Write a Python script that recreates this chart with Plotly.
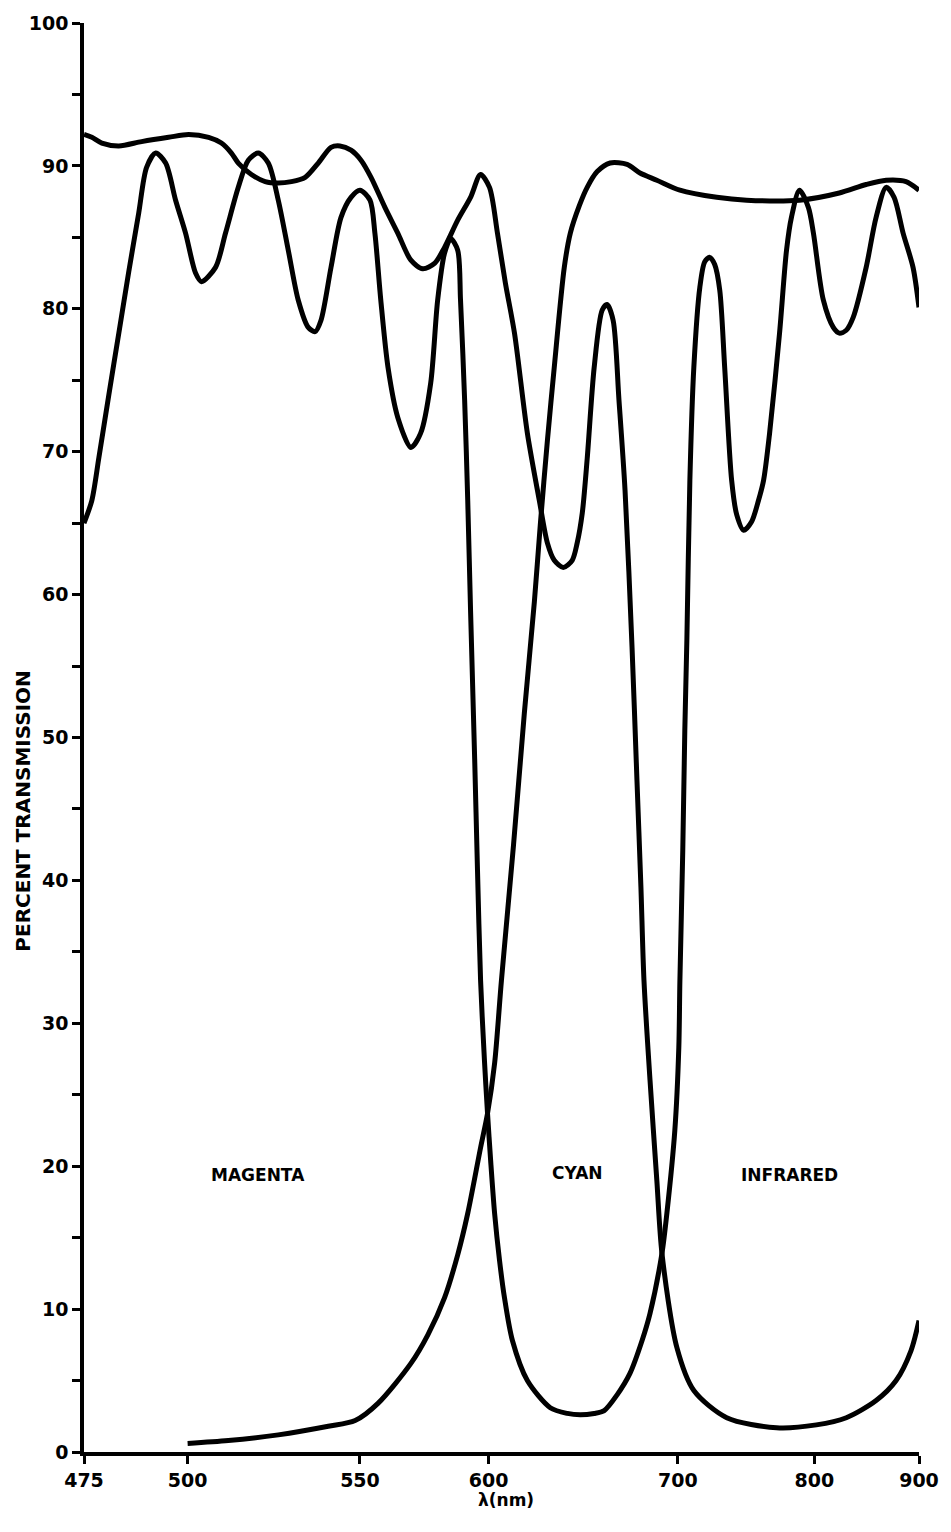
import numpy as np
import plotly.graph_objects as go

# Wavelength axis: tick wavelengths and where each sits along the axis (0 = left end, 1 = right end)
TICK_NM = [475, 500, 550, 600, 700, 800, 900]
TICK_POS = [0.0, 0.1241, 0.3305, 0.4845, 0.7112, 0.8747, 1.0]

# Short-pass filter (blocks the near infrared)
SHORT_NM = [475.0, 476.9, 479.3, 483.4, 488.9, 495.4, 500.3, 506.1, 509.8, 512.7,
            514.7, 518.5, 522.5, 526.3, 530.1, 534.1, 537.9, 541.6, 544.2, 547.4,
            550.4, 554.3, 559.7, 564.7, 569.8, 574.4, 579.1, 582.9, 588.0, 593.0,
            596.9, 600.5, 604.7, 608.9, 613.7, 620.5, 626.8, 631.1, 634.7, 639.5,
            644.2, 646.8, 649.5, 652.1, 655.8, 660.0, 662.6, 665.8, 668.9, 672.1,
            675.8, 678.4, 680.5, 682.1, 685.3, 688.9, 691.6, 699.5, 711.7, 735.8,
            772.3, 801.9, 830.5, 859.0, 878.1, 892.4, 900.0]
SHORT_T = [92.2, 92.0, 91.6, 91.4, 91.7, 92.0, 92.2, 92.0, 91.6, 90.9,
           90.2, 89.4, 88.9, 88.8, 88.9, 89.2, 90.2, 91.3, 91.4, 91.1,
           90.4, 89.2, 87.1, 85.3, 83.4, 82.8, 83.2, 84.3, 86.2, 87.8,
           89.4, 88.5, 85.3, 81.8, 78.3, 71.3, 66.6, 63.6, 62.4, 61.9,
           62.4, 63.6, 65.7, 69.5, 75.9, 79.9, 80.3, 79.2, 73.6, 67.3,
           56.3, 47.0, 39.5, 33.0, 26.0, 19.0, 13.9, 7.3, 4.3, 2.4,
           1.7, 1.9, 2.4, 3.6, 5.0, 7.1, 9.2]

# Long-pass filter (blocks blue-green)
LONG_NM = [500.0, 511.8, 526.3, 540.8, 548.6, 557.0, 569.8, 576.4, 582.9, 588.0,
           591.9, 596.9, 599.6, 603.2, 606.8, 613.2, 618.9, 624.2, 627.4, 631.1,
           634.7, 640.0, 643.2, 647.9, 652.1, 657.4, 664.2, 673.2, 680.0, 688.9,
           701.5, 728.5, 750.4, 789.1, 823.8, 849.5, 868.6, 887.6, 900.0]
LONG_T = [0.6, 0.8, 1.2, 1.8, 2.2, 3.4, 6.2, 8.2, 10.8, 13.8,
          16.7, 21.3, 23.7, 27.2, 33.0, 42.5, 51.7, 59.5, 65.0, 70.8,
          75.9, 82.9, 85.3, 87.2, 88.5, 89.6, 90.2, 90.1, 89.5, 89.0,
          88.3, 87.8, 87.6, 87.6, 88.1, 88.7, 89.0, 88.9, 88.3]

# Band-stop filter (blocks red)
NOTCH_NM = [475.0, 476.9, 478.6, 481.0, 483.4, 485.8, 488.2, 490.1, 492.3, 494.7,
            497.1, 499.5, 502.3, 504.0, 508.1, 511.0, 514.7, 517.6, 520.5, 523.4,
            526.3, 529.2, 532.1, 535.0, 537.0, 538.7, 541.6, 544.5, 547.4, 550.0,
            553.9, 555.8, 558.1, 560.9, 564.7, 569.8, 573.6, 577.5, 580.2, 582.9,
            585.3, 588.0, 589.1, 590.7, 591.9, 593.0, 594.6, 595.7, 596.9, 598.4,
            599.6, 601.1, 603.2, 605.8, 608.4, 612.6, 620.5, 632.6, 641.6, 648.4,
            655.8, 661.1, 667.9, 674.7, 681.1, 685.3, 691.6, 694.2, 698.4, 700.7,
            701.5, 703.6, 705.1, 706.6, 708.8, 711.7, 716.1, 719.7, 723.4, 727.0,
            730.7, 734.3, 739.4, 743.1, 748.2, 754.0, 759.1, 762.8, 767.2, 774.5,
            779.6, 783.2, 789.1, 795.6, 799.3, 808.6, 818.1, 823.8, 830.5, 837.1,
            849.5, 859.0, 868.6, 876.2, 884.8, 894.3, 900.0]
NOTCH_T = [65.0, 66.6, 69.6, 74.0, 78.3, 82.6, 86.7, 89.9, 90.9, 90.2,
           87.6, 85.3, 82.5, 81.9, 82.9, 85.3, 88.5, 90.4, 90.9, 90.2,
           87.6, 84.1, 80.6, 78.7, 78.4, 79.2, 82.9, 86.4, 87.8, 88.3,
           87.6, 85.3, 80.6, 75.9, 72.4, 70.3, 71.3, 74.8, 80.6, 83.9,
           84.9, 84.1, 80.6, 73.6, 66.6, 58.9, 48.5, 40.7, 33.0, 27.4,
           23.7, 20.4, 16.7, 13.4, 10.8, 7.8, 5.0, 3.1, 2.7, 2.6,
           2.7, 2.9, 4.0, 5.5, 7.8, 9.7, 13.9, 16.7, 22.5, 28.3,
           33.0, 42.1, 50.5, 56.8, 68.0, 75.9, 81.5, 83.3, 83.6, 83.1,
           81.3, 75.9, 68.0, 65.6, 64.5, 65.1, 66.6, 68.0, 71.3, 78.3,
           84.1, 86.4, 88.3, 87.1, 85.3, 80.6, 78.7, 78.3, 78.5, 79.4,
           82.9, 86.4, 88.5, 87.8, 85.3, 82.9, 80.1]

# Region labels
REGION_LABELS = ["MAGENTA", "CYAN", "INFRARED"]
REGION_NM = [520.5, 646.8, 782.0]
REGION_T = [19.4, 19.5, 19.4]


def to_axis(nm):
    """Map wavelengths onto the non-linear wavelength axis."""
    return np.interp(np.asarray(nm, dtype=float), TICK_NM, TICK_POS)


BOLD = dict(family="DejaVu Sans", color="black", weight="bold")

fig = go.Figure()
for nm, t in [(SHORT_NM, SHORT_T), (LONG_NM, LONG_T), (NOTCH_NM, NOTCH_T)]:
    fig.add_trace(go.Scatter(
        x=to_axis(nm), y=t, mode="lines",
        line=dict(color="black", width=5, shape="spline", smoothing=0.8),
        hoverinfo="skip", showlegend=False,
    ))

annotations = [
    dict(x=float(to_axis(n)), y=t, text=lab, xref="x", yref="y",
         showarrow=False, font=dict(size=17, **BOLD))
    for lab, n, t in zip(REGION_LABELS, REGION_NM, REGION_T)
]
annotations.append(dict(
    x=-0.0727, y=0.449, xref="paper", yref="paper", text="PERCENT TRANSMISSION",
    textangle=-90, showarrow=False, xanchor="center", yanchor="middle",
    font=dict(size=20, **BOLD)))
annotations.append(dict(
    x=0.505, y=-0.0336, xref="paper", yref="paper", text="λ(nm)",
    showarrow=False, xanchor="center", yanchor="middle",
    font=dict(size=17, **BOLD)))

fig.update_layout(
    width=951, height=1532,
    margin=dict(l=84, r=28, t=23, b=80),
    paper_bgcolor="white", plot_bgcolor="white",
    annotations=annotations,
    xaxis=dict(
        range=[0, 1], tickvals=TICK_POS, ticktext=[str(v) for v in TICK_NM],
        ticks="outside", ticklen=8, tickwidth=2.5, tickcolor="black",
        showline=True, linecolor="black", linewidth=3.5,
        showgrid=False, zeroline=False, tickfont=dict(size=19, **BOLD),
    ),
    yaxis=dict(
        range=[0, 100], tickvals=list(range(0, 101, 5)),
        ticktext=[str(v) if v % 10 == 0 else "" for v in range(0, 101, 5)],
        ticks="outside", ticklen=8, tickwidth=2.5, tickcolor="black",
        showline=True, linecolor="black", linewidth=3.5,
        showgrid=False, zeroline=False, tickfont=dict(size=19, **BOLD),
    ),
)

fig.write_html("out.html")
